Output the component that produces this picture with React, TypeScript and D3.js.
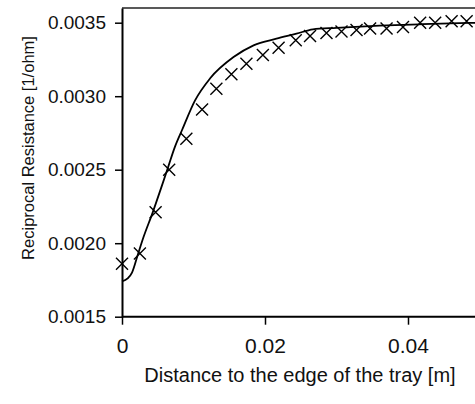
import React, { useEffect, useRef } from 'react';
import * as d3 from 'd3';

// measured points (crosses)
const measX = [0, 0.0025, 0.0047, 0.0066, 0.0090, 0.0112, 0.0132, 0.0153, 0.0174, 0.0197, 0.0219, 0.0243, 0.0263, 0.0286, 0.0307, 0.0328, 0.0347, 0.0370, 0.0393, 0.0417, 0.0438, 0.0461, 0.0482];
const measY = [0.00186, 0.00193, 0.00221, 0.00250, 0.00271, 0.00291, 0.00305, 0.00315, 0.00322, 0.00328, 0.00333, 0.00338, 0.00341, 0.00343, 0.00344, 0.00345, 0.00346, 0.00346, 0.00347, 0.00350, 0.00350, 0.00351, 0.00351];

// model curve
const fitX = [0, 0.0008, 0.0014, 0.0022, 0.003, 0.0043, 0.0055, 0.0064, 0.0074, 0.0084, 0.0102, 0.0123, 0.0156, 0.0184, 0.0216, 0.0244, 0.0267, 0.030, 0.036, 0.042, 0.050];
const fitY = [0.00174, 0.00176, 0.0018, 0.00192, 0.00204, 0.00221, 0.00238, 0.00251, 0.002655, 0.00277, 0.00297, 0.00312, 0.003266, 0.003346, 0.003391, 0.003425, 0.003455, 0.003465, 0.00348, 0.00349, 0.0035];

const xTicks = [0, 0.02, 0.04];
const yTicks = [0.0015, 0.002, 0.0025, 0.003, 0.0035];

const width = 475;
const height = 404;
const margin = { top: 8, left: 122, bottom: 316.7, right: 479.5 };
const font = '"Liberation Sans", Arial, sans-serif';

const App = () => {
  const chartRef = useRef(null);

  useEffect(() => {
    const svg = d3.select(chartRef.current);
    svg.selectAll('*').remove();

    const xScale = d3.scaleLinear().domain([0, 0.05]).range([margin.left, margin.right]);
    const yScale = d3.scaleLinear().domain([0.0015, 0.0036]).range([margin.bottom, margin.top]);

    // top frame line
    svg.append('line')
      .attr('x1', margin.left).attr('x2', width)
      .attr('y1', margin.top).attr('y2', margin.top)
      .attr('stroke', '#222').attr('stroke-width', 1.5);

    const xAxis = d3.axisBottom(xScale)
      .tickValues(xTicks)
      .tickFormat(d => (d === 0 ? '0' : d.toFixed(2)))
      .tickSize(8)
      .tickSizeOuter(0)
      .tickPadding(13);

    svg.append('g')
      .attr('transform', `translate(0, ${margin.bottom})`)
      .call(xAxis)
      .call(g => g.select('.domain').attr('stroke-width', 2).attr('d', `M${margin.left},0H${width}`))
      .call(g => g.selectAll('.tick line').attr('stroke-width', 1.5))
      .call(g => g.selectAll('text').attr('font-family', font).attr('font-size', 21).attr('fill', '#111'));

    const yAxis = d3.axisLeft(yScale)
      .tickValues(yTicks)
      .tickFormat(d3.format('.4f'))
      .tickSize(7)
      .tickSizeOuter(0)
      .tickPadding(9);

    svg.append('g')
      .attr('transform', `translate(${margin.left}, 0)`)
      .call(yAxis)
      .call(g => g.select('.domain').attr('stroke-width', 2))
      .call(g => g.selectAll('.tick line').attr('stroke-width', 1.5))
      .call(g => g.selectAll('text').attr('font-family', font).attr('font-size', 19).attr('fill', '#111'));

    // fit line
    const line = d3.line()
      .x((d, i) => xScale(fitX[i]))
      .y((d, i) => yScale(fitY[i]))
      .curve(d3.curveMonotoneX);

    svg.append('path')
      .datum(fitX)
      .attr('d', line)
      .attr('fill', 'none')
      .attr('stroke', '#000')
      .attr('stroke-width', 1.8);

    // crosses
    const s = 6;
    svg.append('g')
      .selectAll('path')
      .data(measX)
      .join('path')
      .attr('d', (d, i) => {
        const cx = xScale(d);
        const cy = yScale(measY[i]);
        return `M${cx - s},${cy - s}L${cx + s},${cy + s}M${cx - s},${cy + s}L${cx + s},${cy - s}`;
      })
      .attr('stroke', '#000')
      .attr('stroke-width', 1.4)
      .attr('fill', 'none');

    svg.append('text')
      .attr('x', 300)
      .attr('y', 382)
      .attr('text-anchor', 'middle')
      .attr('font-family', font)
      .attr('font-size', 20)
      .attr('fill', '#111')
      .text('Distance to the edge of the tray [m]');

    svg.append('text')
      .attr('transform', `translate(34, 148) rotate(-90)`)
      .attr('text-anchor', 'middle')
      .attr('font-family', font)
      .attr('font-size', 16.5)
      .attr('fill', '#111')
      .text('Reciprocal Resistance [1/ohm]');
  });

  return (
    <svg
      width={width}
      height={height}
      viewBox={`0 0 ${width} ${height}`}
      style={{ position: 'absolute', left: 0, top: 0, background: '#fff' }}
      ref={chartRef}
    />
  );
};

export default App;
